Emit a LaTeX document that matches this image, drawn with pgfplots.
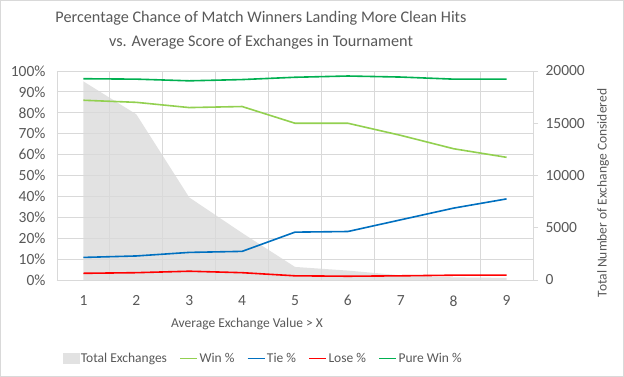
\documentclass[border=0pt]{standalone}
\usepackage{pgfplots}
\pgfplotsset{compat=1.18}
\usepackage{fontspec}
\setmainfont{Carlito}
\definecolor{txt}{HTML}{595959}
\definecolor{gridc}{HTML}{D9D9D9}
\definecolor{areagray}{HTML}{E2E2E2}
\definecolor{wincol}{HTML}{92D050}
\definecolor{tiecol}{HTML}{0070C0}
\definecolor{losecol}{HTML}{FF0000}
\definecolor{purecol}{HTML}{00B050}
\begin{document}
\begin{tikzpicture}[x=1pt,y=1pt]
\fill[white] (0,0) rectangle (624,377);
\draw[gridc, line width=0.8pt] (0.5,0.5) rectangle (623.5,376.5);
% secondary axis: total exchanges
\begin{axis}[
  at={(57pt,97pt)}, anchor=south west,
  scale only axis, width=476pt, height=209pt,
  xmin=0.5, xmax=9.5, ymin=0, ymax=20000,
  axis x line=none,
  axis y line*=right,
  y axis line style={draw=gridc, line width=0.8pt},
  ytick={0,5000,10000,15000,20000},
  scaled y ticks=false,
  tick align=outside,
  major tick length=5pt,
  ytick style={draw=gridc, line width=0.8pt},
  yticklabel style={font=\fontsize{15.5}{16}\selectfont, text=txt, xshift=4pt},
  /pgf/number format/set thousands separator={},
  /pgf/number format/assume math mode=true,
]
\addplot[fill=areagray, draw=none] coordinates {
(1,19000) (2,15850) (3,7900) (4,4500) (5,1250) (6,900) (7,450) (8,250) (9,200)
} \closedcycle;
\end{axis}
% primary axis: percentages
\begin{axis}[
  at={(57pt,97pt)}, anchor=south west,
  scale only axis, width=476pt, height=209pt,
  xmin=0.5, xmax=9.5, ymin=0, ymax=100,
  axis x line*=bottom, axis y line*=left,
  x axis line style={draw=gridc, line width=0.8pt, -},
  y axis line style={draw=none},
  xtick={1,...,9},
  minor xtick={0.5,1.5,...,9.5},
  ytick={0,10,...,100},
  major tick length=0pt, minor tick length=0pt,
  xminorgrids=true, ymajorgrids=true, xmajorgrids=false,
  grid style={draw=gridc, line width=0.8pt},
  minor grid style={draw=gridc, line width=0.8pt},
  yticklabel={\pgfmathprintnumber{\tick}\%},
  yticklabel style={font=\fontsize{15.5}{16}\selectfont, text=txt, xshift=-8pt},
  xticklabel style={font=\fontsize{15.5}{16}\selectfont, text=txt, yshift=-12pt},
  /pgf/number format/assume math mode=true,
  legend columns=5,
  legend style={at={(0.433,-0.375)}, anchor=center, draw=none, fill=none,
    font=\fontsize{13.5}{14}\selectfont, text=txt,
    nodes={inner sep=1.5pt},
    /tikz/every even column/.append style={column sep=11pt},
    inner sep=0pt},
  legend cell align=left,
  legend image code/.code={\draw[#1, line width=1.5pt] (0pt,0pt) -- (17pt,0pt);},
]
\addlegendimage{legend image code/.code={\fill[areagray] (0pt,-5pt) rectangle (16pt,5pt);}}
\addlegendentry{Total Exchanges}
\addplot[wincol, line width=1.6pt] coordinates {
(1,86) (2,85) (3,82.5) (4,83) (5,75) (6,75) (7,69.2) (8,62.8) (9,58.7)
};
\addlegendentry{Win \%}
\addplot[tiecol, line width=1.6pt] coordinates {
(1,10.8) (2,11.5) (3,13.2) (4,13.7) (5,22.9) (6,23.2) (7,28.8) (8,34.4) (9,38.8)
};
\addlegendentry{Tie \%}
\addplot[losecol, line width=1.6pt] coordinates {
(1,3.2) (2,3.5) (3,4.2) (4,3.5) (5,2.0) (6,1.8) (7,2.0) (8,2.3) (9,2.3)
};
\addlegendentry{Lose \%}
\addplot[purecol, line width=1.6pt] coordinates {
(1,96.3) (2,96.1) (3,95.3) (4,95.9) (5,97.0) (6,97.6) (7,97.1) (8,96.1) (9,96.1)
};
\addlegendentry{Pure Win \%}
\end{axis}
\node[text=txt, font=\fontsize{16.2}{18}\selectfont] at (261,359) {Percentage Chance of Match Winners Landing More Clean Hits};
\node[text=txt, font=\fontsize{16.2}{18}\selectfont] at (261,335) {vs. Average Score of Exchanges in Tournament};
\node[text=txt, font=\fontsize{13.5}{14}\selectfont] at (247,53) {Average Exchange Value > X};
\node[text=txt, font=\fontsize{13.5}{14}\selectfont, rotate=90] at (603,184) {Total Number of Exchange Considered};
\end{tikzpicture}
\end{document}
